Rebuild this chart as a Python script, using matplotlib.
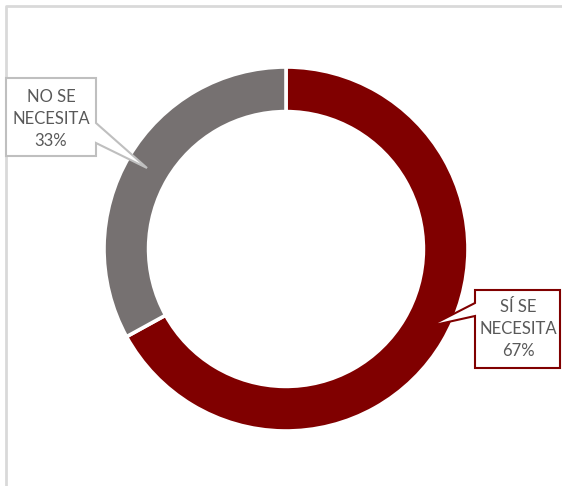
import matplotlib
matplotlib.use("Agg")
import matplotlib.pyplot as plt
from matplotlib.patches import Polygon

categories = ["SÍ SE\nNECESITA", "NO SE\nNECESITA"]
values = [67, 33]
colors = ["#800000", "#767171"]
pct_labels = ["67%", "33%"]

W, H = 562, 486
fig = plt.figure(figsize=(W / 100, H / 100), dpi=100)
ax = fig.add_axes([0, 0, 1, 1])

def Y(y):
    return H - y

cx, cy, R = 286, 249, 182
ax.pie(values, colors=colors, startangle=90, counterclock=False,
       center=(cx, Y(cy)), radius=R, frame=True,
       wedgeprops=dict(width=R * 0.245, edgecolor="white", linewidth=2.6))
ax.set_xlim(0, W)
ax.set_ylim(0, H)
ax.set_aspect("equal")
ax.axis("off")

# chart frame
ax.plot([6, 6, W + 5], [Y(H + 5), Y(6), Y(6)], color="#d9d9d9", lw=2, solid_capstyle="butt")

# callouts
no_pts = [(6, 78), (96, 78), (96, 123), (147, 168), (96, 143), (96, 156), (6, 156)]
si_pts = [(475, 290), (560, 290), (560, 368), (475, 368), (475, 316), (430, 326), (475, 303)]
ax.add_patch(Polygon([(x, Y(y)) for x, y in no_pts], closed=True, facecolor="white",
                     edgecolor="#bfbfbf", lw=1.5, zorder=5))
ax.add_patch(Polygon([(x, Y(y)) for x, y in si_pts], closed=True, facecolor="white",
                     edgecolor="#800000", lw=1.5, zorder=5))

tcol = "#595959"
ax.text(51, Y(119), categories[1] + "\n" + pct_labels[1], ha="center", va="center",
        fontsize=12, color=tcol, family="Lato", linespacing=1.45, zorder=6)
ax.text(518, Y(329), categories[0] + "\n" + pct_labels[0], ha="center", va="center",
        fontsize=12, color=tcol, family="Lato", linespacing=1.45, zorder=6)

fig.savefig("out.png", dpi=100)
